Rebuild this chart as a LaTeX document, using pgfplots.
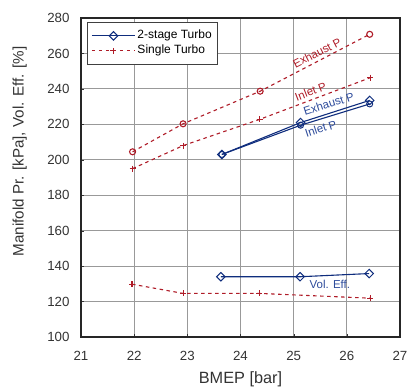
\documentclass[border=0pt]{standalone}
\usepackage{pgfplots}
\pgfplotsset{compat=1.18}
\usepackage{fontspec}
\setmainfont{Liberation Sans}
\definecolor{tblue}{RGB}{15,45,125}
\definecolor{tbluelt}{RGB}{45,75,155}
\definecolor{tred}{RGB}{175,28,40}
\begin{document}
\begin{tikzpicture}
\begin{axis}[
  scale only axis, width=319pt, height=319pt,
  xmin=21, xmax=27, ymin=100, ymax=280,
  xtick={21,...,27}, ytick={100,120,...,280},
  grid=major, major grid style={black!40, line width=0.8pt},
  axis line style={black!85, line width=1.1pt},
  tick style={black!80}, tick align=inside, major tick length=3pt,
  xtick pos=bottom, ytick pos=left,
  xlabel={BMEP [bar]}, ylabel={Manifold Pr. [kPa], Vol. Eff. [\%]},
  label style={text=black!80},
  xlabel style={font=\fontsize{16.3}{18}\selectfont, at={(axis description cs:0.5,-0.1317)}, anchor=center},
  ylabel style={font=\fontsize{15.2}{17}\selectfont, at={(axis description cs:-0.192,0.5815)}, anchor=center},
  tick label style={font=\fontsize{13.3}{15}\selectfont, text=black!80},
  /pgf/number format/assume math mode=true,
  xticklabel style={yshift=-10.5pt}, yticklabel style={xshift=-8pt},
  legend style={at={(0,1)}, anchor=north west, xshift=6pt, yshift=-4pt, draw=black!75, line width=0.8pt, font=\fontsize{12}{14}\selectfont, inner xsep=4pt, inner ysep=6pt, row sep=0pt,
    nodes={inner sep=2pt, text height=8.5pt, text depth=2.5pt}},
  legend cell align=left,
  legend image code/.code={\draw[mark repeat=2,mark phase=2,#1] plot coordinates {(0pt,0pt) (21.5pt,0pt) (43pt,0pt)};},
]
% 2-stage exhaust
\addplot[tblue, line width=1.1pt, mark=square, mark size=3pt, mark options={solid, fill=white, line width=1pt, rotate=45}] coordinates {(23.65,203) (25.13,221) (26.43,233.5)};
\addlegendentry{2-stage Turbo}
\addplot[tred, line width=1.1pt, dash pattern=on 3.5pt off 3.5pt, mark=+, mark size=3pt, mark options={solid}] coordinates {(21.97,195) (22.92,208) (24.36,222.8) (26.44,246.3)};
\addlegendentry{Single Turbo}
% 2-stage inlet
\addplot[tblue, line width=1.1pt, mark=o, mark size=3pt, mark options={solid, fill=white, line width=1pt}, forget plot] coordinates {(23.65,203) (25.13,219.5) (26.43,231.5)};
% 2-stage vol eff
\addplot[tblue, line width=1.1pt, mark=square, mark size=3pt, mark options={solid, fill=white, line width=1pt, rotate=45}, forget plot] coordinates {(23.63,134) (25.12,134) (26.42,135.8)};
% single exhaust
\addplot[tred, line width=1.1pt, dash pattern=on 3.5pt off 3.5pt, mark=o, mark size=3pt, mark options={solid}, forget plot] coordinates {(21.97,204.5) (22.92,220.3) (24.37,238.7) (26.43,270.8)};
% single vol eff
\addplot[tred, line width=1.1pt, dash pattern=on 3.5pt off 3.5pt, mark=+, mark size=3pt, mark options={solid}, forget plot] coordinates {(21.96,129.8) (22.92,124.6) (24.35,124.6) (26.44,121.9)};
\node[tred, rotate=27, font=\fontsize{11.5}{12}\selectfont] at (axis cs:25.44,260.3) {Exhaust P};
\node[tred, rotate=21, font=\fontsize{11.5}{12}\selectfont] at (axis cs:25.32,238.5) {Inlet P};
\node[tbluelt, rotate=18, font=\fontsize{11.5}{12}\selectfont] at (axis cs:25.66,231.5) {Exhaust P};
\node[tbluelt, rotate=18, font=\fontsize{11.5}{12}\selectfont] at (axis cs:25.51,217.5) {Inlet P};
\node[tbluelt, font=\fontsize{11.5}{12}\selectfont] at (axis cs:25.68,129.9) {Vol. Eff.};
\end{axis}
\pgfresetboundingbox
\path (-81pt,-51pt) rectangle (326pt,337pt);
\end{tikzpicture}
\end{document}
